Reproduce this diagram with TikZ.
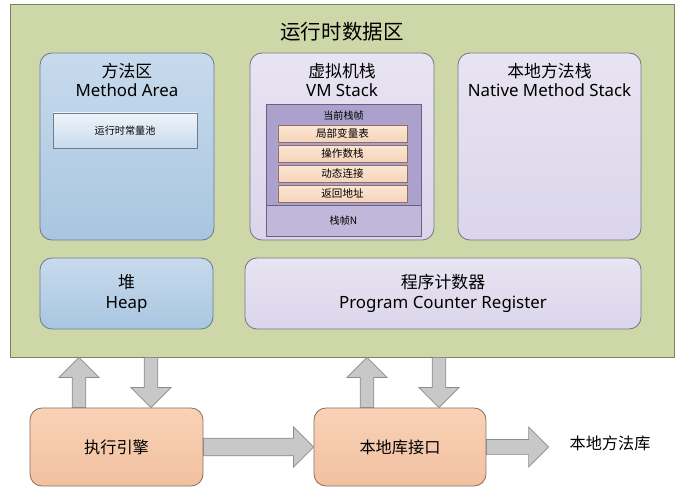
\documentclass[tikz,border=0pt]{standalone}
\usepackage{fontspec}
\setmainfont{Noto Sans}
\newfontfamily\cjk{Noto Sans CJK SC}
\usepackage{tikz}
\usetikzlibrary{positioning,calc}
\definecolor{rtgreen}{RGB}{206,215,168}
\definecolor{rtgreenline}{RGB}{120,130,100}
\definecolor{rtbluetop}{RGB}{200,218,236}
\definecolor{rtbluebot}{RGB}{168,198,225}
\definecolor{rtblueline}{RGB}{105,125,145}
\definecolor{rtlavtop}{RGB}{232,228,242}
\definecolor{rtlavbot}{RGB}{218,213,234}
\definecolor{rtlavline}{RGB}{120,118,135}
\definecolor{rtpurple}{RGB}{172,160,205}
\definecolor{rtpurplelt}{RGB}{192,183,218}
\definecolor{rtpurpleline}{RGB}{105,95,135}
\definecolor{rtpeachtop}{RGB}{252,230,212}
\definecolor{rtpeachbot}{RGB}{246,212,186}
\definecolor{rtorangetop}{RGB}{249,210,182}
\definecolor{rtorangebot}{RGB}{241,192,160}
\definecolor{rtorangeline}{RGB}{140,112,100}
\definecolor{rtgray}{RGB}{200,200,200}
\definecolor{rtgrayline}{RGB}{140,140,140}

% fat block arrow from #1 to #2, shaft half width #3, head half width #4
\newcommand{\arrlen}{0.5cm}
\newcommand{\bigarrow}[4]{%
  \coordinate (hb) at ($(#2)!\arrlen!(#1)$);
  \draw[fatarr] ($(#1)!#3!90:(#2)$) -- ($(hb)!#3!-90:(#1)$) -- ($(hb)!#4!-90:(#1)$)
    -- (#2) -- ($(hb)!#4!90:(#1)$) -- ($(hb)!#3!90:(#1)$) -- ($(#1)!#3!-90:(#2)$) -- cycle;}

\begin{document}
\begin{tikzpicture}[
  x=0.025cm, y=-0.025cm,
  region/.style={draw=rtgreenline, fill=rtgreen, line width=0.6pt,
                 minimum width=165.75mm, minimum height=88.25mm},
  bluebox/.style={draw=rtblueline, top color=rtbluetop, bottom color=rtbluebot,
                  rounded corners=3mm, line width=0.6pt, align=center,
                  font=\fontsize{12}{14}\selectfont},
  lavbox/.style={draw=rtlavline, top color=rtlavtop, bottom color=rtlavbot,
                 rounded corners=3mm, line width=0.6pt, align=center,
                 font=\fontsize{12}{14}\selectfont},
  boxtitle/.style={align=center, font=\fontsize{12}{13.5}\selectfont, inner sep=0pt},
  pool/.style={draw=rtblueline, top color=white!70!rtbluetop, bottom color=rtbluetop,
               minimum width=36mm, minimum height=8.75mm, line width=0.5pt,
               font=\fontsize{7.2}{8}\selectfont},
  frame/.style={draw=rtpurpleline, line width=0.5pt, minimum width=38.75mm,
                font=\fontsize{7.2}{8}\selectfont},
  slot/.style={draw=rtorangeline, top color=rtpeachtop, bottom color=rtpeachbot,
               minimum width=32.25mm, minimum height=4.25mm, inner sep=0pt,
               line width=0.5pt, font=\fontsize{7.5}{8}\selectfont},
  engine/.style={draw=rtorangeline, top color=rtorangetop, bottom color=rtorangebot,
                 rounded corners=3mm, line width=0.6pt,
                 minimum height=19.5mm, font=\fontsize{11.5}{13}\selectfont},
  fatarr/.style={draw=rtgrayline, fill=rtgray, line width=0.5pt, line join=miter}
]
\useasboundingbox (0,0) rectangle (695,493);

% --- runtime data area ---
\node[region] (rda) at (342.5,180.5) {};
\node[font=\fontsize{14.6}{16}\selectfont] (rdatitle) at (342,32) {\cjk 运行时数据区};

\node[bluebox, minimum width=43.5mm, minimum height=46.75mm] (ma) at (127,146.5) {};
\node[boxtitle] (matitle) at ($(ma.north)+(0,27.5)$) {{\cjk 方法区}\\Method Area};
\node[pool] (cpool) at (125,130.5) {\cjk 运行时常量池};

\node[lavbox, minimum width=46mm, minimum height=46.75mm] (vms) at (342,146.5) {};
\node[boxtitle] (vmstitle) at ($(vms.north)+(0,27.5)$) {{\cjk 虚拟机栈}\\VM Stack};

\node[lavbox, minimum width=45.75mm, minimum height=46.75mm] (nms) at (549.5,146.5) {};
\node[boxtitle] (nmstitle) at ($(nms.north)+(0,27.5)$) {{\cjk 本地方法栈}\\Native Method Stack};

% stack frames
\node[frame, fill=rtpurple, minimum height=25.25mm] (cur) at (343.5,154.5) {};
\node[frame, fill=rtpurplelt, minimum height=7.75mm] (frameN) at (343.5,220.5) {\cjk 栈帧N};
\node[font=\fontsize{7.2}{8}\selectfont, inner sep=0pt] (curlabel) at ($(cur.north)+(0,12)$) {\cjk 当前栈帧};
\foreach \t [count=\i from 0] in {局部变量表,操作数栈,动态连接,返回地址}
  \node[slot] (slot\i) at (342.5,{133.5+20*\i}) {\cjk \t};

\node[bluebox, minimum width=43.25mm, minimum height=17.75mm] (heap) at (126.5,293.5)
  {{\cjk 堆}\\Heap};
\node[lavbox, minimum width=99mm, minimum height=17.75mm] (pcr) at (443,293.5)
  {{\cjk 程序计数器}\\Program Counter Register};

% --- engine and native interface ---
\node[engine, minimum width=43.25mm] (exec) at (116.5,447) {\cjk 执行引擎};
\node[engine, minimum width=43mm] (nif) at (400,447) {\cjk 本地库接口};
\node[font=\fontsize{11.5}{13}\selectfont] (lib) at (610,443) {\cjk 本地方法库};

% block arrows
\coordinate (eup) at ($(exec.north)+(-37.5,0)$);
\coordinate (edn) at ($(exec.north)+(34.5,0)$);
\coordinate (nup) at ($(nif.north)+(-33,0)$);
\coordinate (ndn) at ($(nif.north)+(39,0)$);
\coordinate (eupt) at (eup |- rda.south);
\coordinate (ednt) at (edn |- rda.south);
\coordinate (nupt) at (nup |- rda.south);
\coordinate (ndnt) at (ndn |- rda.south);
\coordinate (libtip) at ($(nif.east -| lib.west)+(-16,0)$);

\bigarrow{eup}{eupt}{0.17cm}{0.5cm}
\bigarrow{ednt}{edn}{0.17cm}{0.5cm}
\bigarrow{nup}{nupt}{0.17cm}{0.5cm}
\bigarrow{ndnt}{ndn}{0.17cm}{0.5cm}
\bigarrow{exec.east}{nif.west}{0.22cm}{0.5cm}
\bigarrow{nif.east}{libtip}{0.19cm}{0.5cm}

\end{tikzpicture}
\end{document}
